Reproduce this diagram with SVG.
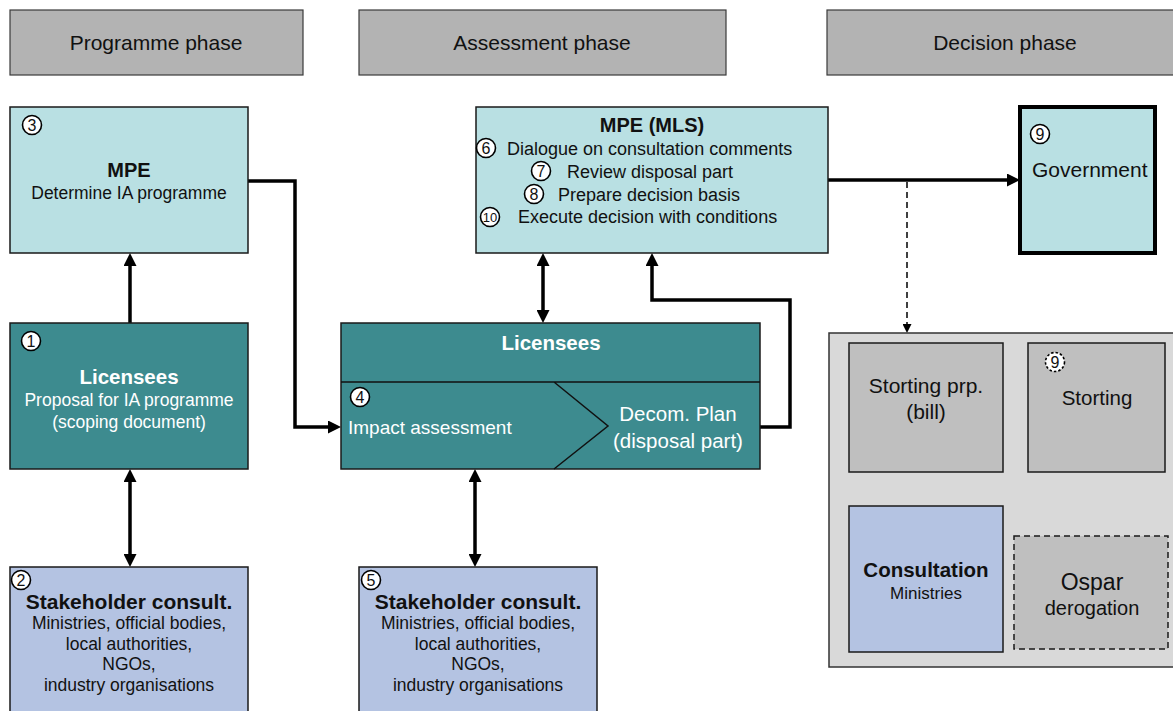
<svg xmlns="http://www.w3.org/2000/svg" width="1173" height="711" viewBox="0 0 1173 711">
<defs>
<style>
text{font-family:"Liberation Sans",Arial,sans-serif;fill:#111}
.phase{fill:#b3b3b3;stroke:#3a3a3a;stroke-width:1.2}
.lc{fill:#b9e0e3;stroke:#1a1a1a;stroke-width:1.5}
.teal{fill:#3d8b8f;stroke:#1a1a1a;stroke-width:1.5}
.blue{fill:#b4c3e2;stroke:#1a1a1a;stroke-width:1.5}
.grey{fill:#bfbfbf;stroke:#1a1a1a;stroke-width:1.5}
.w{fill:#fff}
.c{text-anchor:middle}
.b{font-weight:bold}
.num circle{fill:#fff;stroke:#000;stroke-width:1.6}
.num text{font-size:16px;text-anchor:middle}
.thick{fill:none;stroke:#000;stroke-width:3.5}
.thin{fill:none;stroke:#000;stroke-width:1.5}
</style>
<marker id="ah" viewBox="0 0 13 13" refX="4" refY="6.5" markerWidth="13" markerHeight="13" orient="auto-start-reverse" markerUnits="userSpaceOnUse"><path d="M0,0 L13,6.5 L0,13 z" fill="#000"/></marker>
<marker id="as" viewBox="0 0 9 9" refX="3" refY="4.5" markerWidth="9" markerHeight="9" orient="auto-start-reverse" markerUnits="userSpaceOnUse"><path d="M0,0 L9,4.5 L0,9 z" fill="#000"/></marker>
</defs>
<rect width="1173" height="711" fill="#fff"/>

<g id="phase-programme"><rect class="phase" x="10" y="10" width="293" height="65"/><text class="c" x="156" y="50" font-size="21">Programme phase</text></g>
<g id="phase-assessment"><rect class="phase" x="359" y="10" width="367" height="65"/><text class="c" x="542" y="50" font-size="21">Assessment phase</text></g>
<g id="phase-decision"><rect class="phase" x="827" y="10" width="352" height="65"/><text class="c" x="1005" y="50" font-size="21">Decision phase</text></g>

<g id="connectors">
<path class="thick" d="M130,323 V262" marker-end="url(#ah)"/>
<path class="thick" d="M130,478 V558" marker-start="url(#ah)" marker-end="url(#ah)"/>
<path class="thick" d="M248,181 H295 V427 H332" marker-end="url(#ah)"/>
<path class="thick" d="M543,262 V314" marker-start="url(#ah)" marker-end="url(#ah)"/>
<path class="thick" d="M760,427 H790 V300 H652 V262" marker-end="url(#ah)"/>
<path class="thick" d="M475,478 V558" marker-start="url(#ah)" marker-end="url(#ah)"/>
<path class="thick" d="M828,180 H1011" marker-end="url(#ah)"/>
<path class="thin" d="M907,182 V327" stroke-dasharray="6,4" marker-end="url(#as)"/>
<path class="thin" d="M1003,408 H1022" marker-end="url(#as)"/>
<path class="thin" d="M926,478 V500" marker-start="url(#as)" marker-end="url(#as)"/>
</g>

<g id="mpe">
<rect class="lc" x="10" y="107" width="238" height="146"/>
<g class="num"><circle cx="32" cy="125" r="9.5"/><text x="32" y="131">3</text></g>
<text class="c b" x="129" y="177" font-size="20">MPE</text>
<text class="c" x="129" y="199" font-size="17.5">Determine IA programme</text>
</g>

<g id="licensees-programme">
<rect class="teal" x="10" y="323" width="238" height="146"/>
<g class="num"><circle cx="31" cy="341" r="9.5"/><text x="31" y="347">1</text></g>
<text class="c b w" x="129" y="384" font-size="20.5">Licensees</text>
<text class="c w" x="129" y="406" font-size="17.5">Proposal for IA programme</text>
<text class="c w" x="129" y="428" font-size="17.5">(scoping document)</text>
</g>

<g id="stakeholder-programme">
<rect class="blue" x="10" y="567" width="238" height="150"/>
<g class="num"><circle cx="21" cy="580" r="9.5"/><text x="21" y="586">2</text></g>
<text class="c b" x="129" y="609" font-size="21">Stakeholder consult.</text>
<text class="c" x="129" y="629" font-size="17.5">Ministries, official bodies,</text>
<text class="c" x="129" y="650" font-size="17.5">local authorities,</text>
<text class="c" x="129" y="670" font-size="17.5">NGOs,</text>
<text class="c" x="129" y="691" font-size="17.5">industry organisations</text>
</g>

<g id="licensees-assessment">
<rect class="teal" x="341" y="323" width="419" height="146"/>
<path d="M341,382 H760 M554,382 L608,426 L554,469" fill="none" stroke="#111" stroke-width="1.5"/>
<text class="c b w" x="551" y="350" font-size="20.5">Licensees</text>
<g class="num"><circle cx="360" cy="397" r="9.5"/><text x="360" y="403">4</text></g>
<text class="w" x="348" y="434" font-size="19">Impact assessment</text>
<text class="c w" x="678" y="421" font-size="20.5">Decom. Plan</text>
<text class="c w" x="678" y="448" font-size="20.5">(disposal part)</text>
</g>

<g id="stakeholder-assessment">
<rect class="blue" x="359" y="567" width="238" height="150"/>
<g class="num"><circle cx="371" cy="580" r="9.5"/><text x="371" y="586">5</text></g>
<text class="c b" x="478" y="609" font-size="21">Stakeholder consult.</text>
<text class="c" x="478" y="629" font-size="17.5">Ministries, official bodies,</text>
<text class="c" x="478" y="650" font-size="17.5">local authorities,</text>
<text class="c" x="478" y="670" font-size="17.5">NGOs,</text>
<text class="c" x="478" y="691" font-size="17.5">industry organisations</text>
</g>

<g id="mpe-mls">
<rect class="lc" x="476" y="107" width="352" height="146"/>
<text class="c b" x="652" y="132" font-size="20">MPE (MLS)</text>
<g class="num"><circle cx="486" cy="148" r="9.5"/><text x="486" y="154">6</text></g>
<text x="507" y="155" font-size="18">Dialogue on consultation comments</text>
<g class="num"><circle cx="541" cy="171" r="9.5"/><text x="541" y="177">7</text></g>
<text x="567" y="178" font-size="18">Review disposal part</text>
<g class="num"><circle cx="534" cy="194" r="9.5"/><text x="534" y="200">8</text></g>
<text x="558" y="201" font-size="18">Prepare decision basis</text>
<g class="num"><circle cx="490" cy="217" r="9.5"/><text x="490" y="222" style="font-size:13px">10</text></g>
<text x="518" y="223" font-size="18">Execute decision with conditions</text>
</g>

<g id="government">
<rect x="1020" y="107" width="135" height="146" fill="#b9e0e3" stroke="#000" stroke-width="4"/>
<g class="num"><circle cx="1040" cy="134" r="9.5"/><text x="1040" y="140">9</text></g>
<text x="1032" y="177" font-size="21">Government</text>
</g>

<g id="parliament-area">
<rect x="829" y="333" width="350" height="334" fill="#d9d9d9" stroke="#333" stroke-width="1.5"/>
</g>

<g id="storting-prp">
<rect class="grey" x="849" y="343" width="154" height="129"/>
<text class="c" x="926" y="393" font-size="21">Storting prp.</text>
<text class="c" x="926" y="419" font-size="21">(bill)</text>
</g>

<g id="storting">
<rect class="grey" x="1028" y="343" width="137" height="129"/>
<g class="num"><circle cx="1055" cy="362" r="9.5" stroke-dasharray="2.5,2"/><text x="1055" y="368">9</text></g>
<text class="c" x="1097" y="405" font-size="20.5">Storting</text>
</g>

<g id="consultation">
<rect class="blue" x="849" y="506" width="154" height="146"/>
<text class="c b" x="926" y="577" font-size="20.5">Consultation</text>
<text class="c" x="926" y="599" font-size="17">Ministries</text>
</g>

<g id="ospar">
<rect x="1014" y="536" width="154" height="113" fill="#bfbfbf" stroke="#1a1a1a" stroke-width="1.5" stroke-dasharray="6,4"/>
<text class="c" x="1092" y="590" font-size="23">Ospar</text>
<text class="c" x="1092" y="615" font-size="20">derogation</text>
</g>
</svg>
